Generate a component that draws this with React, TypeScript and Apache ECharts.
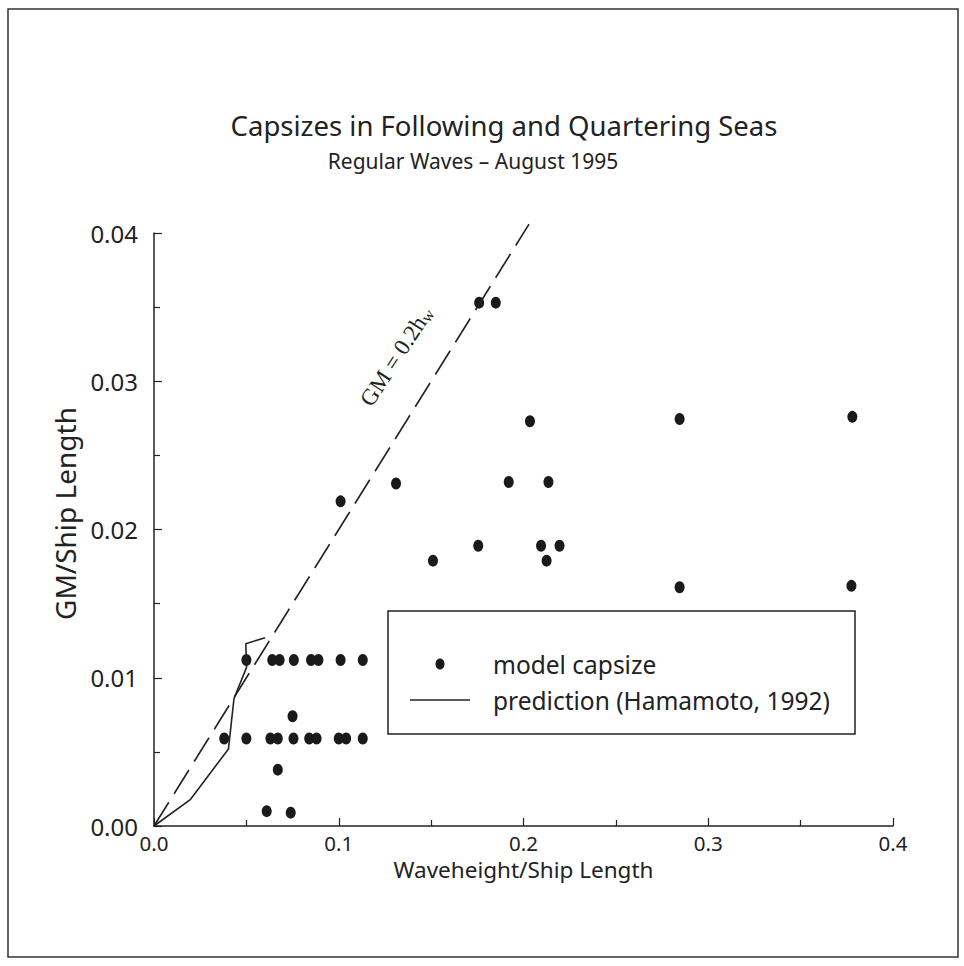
import React, { useEffect, useRef } from "react";
import * as echarts from "echarts";

// Model capsize observations [waveheight/ship length, GM/ship length]
const capsizeLowRowX = [0.038, 0.05, 0.063, 0.067, 0.0755, 0.084, 0.088, 0.1, 0.104, 0.113];
const capsizeLowRowY = 0.0059;
const capsizeHighRowX = [0.05, 0.064, 0.068, 0.0757, 0.085, 0.089, 0.101, 0.113];
const capsizeHighRowY = 0.0112;
const capsizeOther: [number, number][] = [
  [0.075, 0.0074],
  [0.067, 0.0038],
  [0.061, 0.001],
  [0.074, 0.0009],
  [0.101, 0.0219],
  [0.131, 0.0231],
  [0.176, 0.0353],
  [0.185, 0.0353],
  [0.151, 0.0179],
  [0.1755, 0.0189],
  [0.192, 0.0232],
  [0.2035, 0.0273],
  [0.2095, 0.0189],
  [0.2125, 0.0179],
  [0.2135, 0.0232],
  [0.2195, 0.0189],
  [0.2845, 0.02745],
  [0.2845, 0.0161],
  [0.378, 0.0276],
  [0.3775, 0.0162],
];

// Hamamoto (1992) prediction curve
const predictionX = [0, 0.0198, 0.0403, 0.0433, 0.0501, 0.0497, 0.0601];
const predictionY = [0, 0.0018, 0.0052, 0.0086, 0.0107, 0.0123, 0.0127];

// GM = 0.2 hw reference line
const refLineX = [0, 0.203];
const refCoef = 0.2;

const xTicks = { min: 0, max: 0.4, interval: 0.1 };
const yTicks = { min: 0, max: 0.04, interval: 0.01 };

const titleText = "Capsizes in Following and Quartering Seas";
const subtitleText = "Regular Waves \u2013 August 1995";
const legendNames = ["model capsize", "prediction (Hamamoto, 1992)"];

const FONT = "'Noto Sans', sans-serif";
const INK = "#222";

export default function App() {
  const ref = useRef<HTMLDivElement>(null);

  useEffect(() => {
    if (!ref.current) return;
    const chart = echarts.init(ref.current, undefined, { renderer: "svg" });

    const capsizeData: [number, number][] = [
      ...capsizeLowRowX.map((x) => [x, capsizeLowRowY] as [number, number]),
      ...capsizeHighRowX.map((x) => [x, capsizeHighRowY] as [number, number]),
      ...capsizeOther,
    ];
    const predictionData = predictionX.map((x, i) => [x, predictionY[i]]);
    const refData = refLineX.map((x) => [x, x * refCoef]);

    chart.setOption({
      animation: false,
      backgroundColor: "#fff",
      title: [
        {
          text: titleText,
          left: 499,
          top: 106,
          textAlign: "center",
          textStyle: { fontFamily: FONT, fontSize: 27.5, fontWeight: "normal", color: INK },
        },
        {
          text: subtitleText,
          left: 468,
          top: 145,
          textAlign: "center",
          textStyle: { fontFamily: FONT, fontSize: 21, fontWeight: "normal", color: INK },
        },
      ],
      grid: { left: 154, right: 71, top: 233, bottom: 140 },
      xAxis: {
        type: "value",
        min: xTicks.min,
        max: xTicks.max,
        interval: xTicks.interval,
        name: "Waveheight/Ship Length",
        nameLocation: "middle",
        nameGap: 31,
        nameTextStyle: { fontFamily: FONT, fontSize: 22.5, color: INK },
        axisLine: { show: true, lineStyle: { color: INK, width: 1.5 } },
        axisTick: { show: true, inside: true, length: 8, lineStyle: { color: INK, width: 1.2 } },
        minorTick: { show: true, splitNumber: 2, length: 6, lineStyle: { color: INK, width: 1.2 } },
        splitLine: { show: false },
        axisLabel: {
          margin: 6,
          fontFamily: FONT,
          fontSize: 20.5,
          color: INK,
          formatter: (v: number) => v.toFixed(1),
        },
      },
      yAxis: {
        type: "value",
        min: yTicks.min,
        max: yTicks.max,
        interval: yTicks.interval,
        name: "GM/Ship Length",
        nameLocation: "middle",
        nameGap: 64,
        nameRotate: 90,
        nameTextStyle: { fontFamily: FONT, fontSize: 28, color: INK, padding: [0, 0, 0, 32] },
        axisLine: { show: true, lineStyle: { color: INK, width: 1.5 } },
        axisTick: { show: true, inside: true, length: 8, lineStyle: { color: INK, width: 1.2 } },
        minorTick: { show: true, splitNumber: 2, length: 6, lineStyle: { color: INK, width: 1.2 } },
        splitLine: { show: false },
        axisLabel: {
          margin: 16,
          fontFamily: FONT,
          fontSize: 24,
          color: INK,
          formatter: (v: number) => v.toFixed(2),
        },
      },
      series: [
        {
          name: legendNames[0],
          type: "scatter",
          data: capsizeData,
          symbol: "circle",
          symbolSize: [10, 12],
          itemStyle: { color: "#1a1a1a", opacity: 1 },
        },
        {
          name: legendNames[1],
          type: "line",
          data: predictionData,
          showSymbol: false,
          symbol: "none",
          lineStyle: { color: INK, width: 1.6 },
        },
        {
          name: "GM = 0.2hw",
          type: "line",
          data: refData,
          clip: false,
          showSymbol: false,
          symbol: "none",
          lineStyle: { color: INK, width: 1.6, type: [28, 10] },
        },
      ],
      graphic: [
        {
          type: "rect",
          shape: { x: 8, y: 9, width: 950, height: 948 },
          style: { fill: "none", stroke: "#333", lineWidth: 1.5 },
          silent: true,
        },
        {
          type: "text",
          x: 396,
          y: 356,
          rotation: (57 * Math.PI) / 180,
          style: {
            text: "{a|GM = 0.2h}{b|w}",
            align: "center",
            verticalAlign: "middle",
            fill: INK,
            rich: {
              a: { fontFamily: "'Liberation Serif', serif", fontSize: 23, fill: INK },
              b: { fontFamily: "'Liberation Serif', serif", fontSize: 16, fill: INK, padding: [9, 0, 0, 0] },
            },
          },
        },
        {
          type: "rect",
          shape: { x: 388, y: 611, width: 467, height: 123 },
          style: { fill: "#fff", stroke: INK, lineWidth: 1.5 },
        },
        {
          type: "ellipse",
          shape: { cx: 440, cy: 664, rx: 4.5, ry: 5.5 },
          style: { fill: "#1a1a1a" },
        },
        {
          type: "line",
          shape: { x1: 410, y1: 700, x2: 470, y2: 700 },
          style: { stroke: INK, lineWidth: 1.5 },
        },
        {
          type: "text",
          x: 493,
          y: 664,
          style: {
            text: legendNames[0],
            font: `24.5px ${FONT}`,
            fill: INK,
            verticalAlign: "middle",
          },
        },
        {
          type: "text",
          x: 493,
          y: 700,
          style: {
            text: legendNames[1],
            font: `24.5px ${FONT}`,
            fill: INK,
            verticalAlign: "middle",
          },
        },
      ],
    });

    return () => chart.dispose();
  }, []);

  return (
    <div
      ref={ref}
      style={{ position: "fixed", left: 0, top: 0, width: 964, height: 966 }}
    />
  );
}
